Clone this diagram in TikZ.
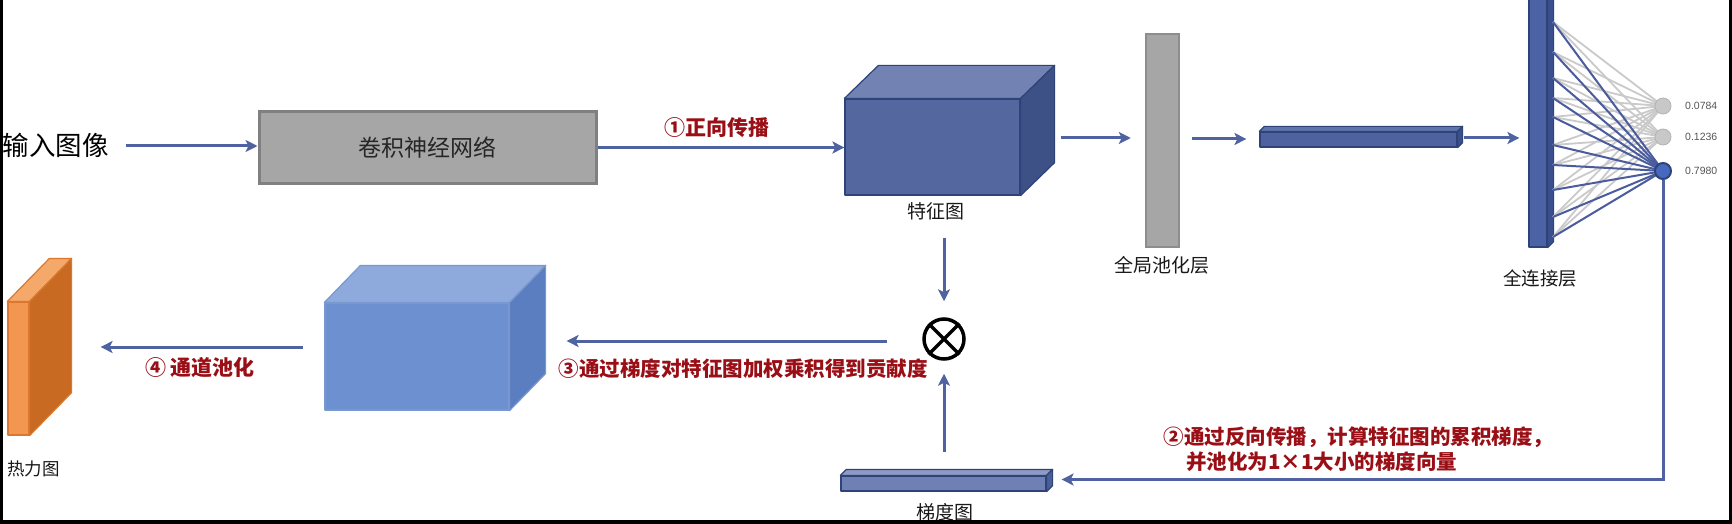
\documentclass[tikz,border=0pt]{standalone}
\usepackage{fontspec}
\setmainfont{Noto Sans CJK SC}
\newfontfamily\numfont{Liberation Sans}
\usetikzlibrary{arrows.meta,calc}
\definecolor{arrblue}{HTML}{4E63A0}
\definecolor{darkred}{HTML}{9A0E16}
\definecolor{edgeblue}{HTML}{2E4478}
\definecolor{fmfront}{HTML}{55679F}
\definecolor{fmtop}{HTML}{7282B3}
\definecolor{fmside}{HTML}{3D5187}
\definecolor{lcfront}{HTML}{6D90D0}
\definecolor{lctop}{HTML}{8EAADD}
\definecolor{lcside}{HTML}{5B7EC0}
\definecolor{lcedge}{HTML}{7A98D0}
\definecolor{gbfront}{HTML}{6F80B4}
\definecolor{gbtop}{HTML}{8D9BC6}
\definecolor{gbside}{HTML}{4C5E96}
\definecolor{fvfront}{HTML}{4D629F}
\definecolor{fvtop}{HTML}{6173AC}
\definecolor{fvside}{HTML}{3B4F8B}
\definecolor{fcfront}{HTML}{4B62A5}
\definecolor{fcside}{HTML}{3A4F8E}
\definecolor{hmfront}{HTML}{F29650}
\definecolor{hmtop}{HTML}{F4A86A}
\definecolor{hmside}{HTML}{C96A22}
\definecolor{hmedge}{HTML}{D9782E}
\definecolor{graybox}{HTML}{A6A6A6}
\definecolor{grayedge}{HTML}{808080}
\definecolor{fcgray}{HTML}{CACACA}
\definecolor{outgray}{HTML}{C8C8C8}
\definecolor{outblue}{HTML}{4768BE}
\definecolor{fcblue}{HTML}{4A5C9E}
\definecolor{numgray}{HTML}{555555}
% draw top and right faces of a 3D box whose front face is node #1
\newcommand{\drawdepth}[6]{%
  \draw[fill=#4,draw=#6,line width=1.2pt,line join=round]
    (#1.north west) -- ++(#2,#3) -- ($(#1.north east)+(#2,#3)$) -- (#1.north east) -- cycle;
  \draw[fill=#5,draw=#6,line width=1.2pt,line join=round]
    (#1.north east) -- ++(#2,#3) -- ($(#1.south east)+(#2,#3)$) -- (#1.south east) -- cycle;
}
\begin{document}
\begin{tikzpicture}[x=1pt,y=-1pt,
  arr/.style={draw=arrblue,line width=3pt,-{Stealth[length=12pt,width=12pt,inset=3pt]}},
  lab/.style={inner sep=0pt,text=black!90,font=\fontsize{19}{19}\selectfont},
  redlab/.style={inner sep=0pt,text=darkred,font=\fontsize{20.5}{25}\selectfont\bfseries},
  frontface/.style={inner sep=0pt,line width=1.2pt,line join=round},
  outnode/.style={circle,inner sep=0pt,minimum size=16pt},
]
\useasboundingbox (0,0) rectangle (1732,524);
\clip (0,0) rectangle (1732,524);
\fill[white] (0,0) rectangle (1732,524);

% ---------- top row ----------
\node[inner sep=0pt,font=\fontsize{26.5}{26.5}\selectfont] (inp) at (55.5,145) {输入图像};
\node[fill=graybox,draw=grayedge,line width=3pt,minimum width=337pt,minimum height=71pt,inner sep=0pt,
      font=\fontsize{23}{23}\selectfont,text=black!85] (cnn) at (427.5,147.5) {卷积神经网络};

\node[frontface,fill=fmfront,draw=edgeblue,minimum width=175pt,minimum height=96pt] (fm) at (932.5,147) {};
\drawdepth{fm}{34}{-33}{fmtop}{fmside}{edgeblue}
\node[lab] (fmlab) at (935.5,211) {特征图};

\node[fill=graybox,draw=grayedge!90,line width=2.5pt,minimum width=33pt,minimum height=213pt,inner sep=0pt] (gap) at (1162.5,140.5) {};
\node[lab] (gaplab) at (1161.5,265) {全局池化层};

\node[frontface,fill=fvfront,draw=edgeblue,minimum width=197pt,minimum height=15pt] (fv) at (1358.5,139.5) {};
\drawdepth{fv}{5}{-5}{fvtop}{fvside}{edgeblue}

\node[frontface,fill=fcfront,draw=edgeblue,minimum width=18pt,minimum height=262pt] (fc) at (1538,116) {};
\drawdepth{fc}{6}{-6}{fcfront}{fcside}{edgeblue}
\node[lab,font=\fontsize{18.5}{18.5}\selectfont] (fclab) at (1540,278) {全连接层};

% output neurons and connections
\coordinate (o1c) at (1663,106);
\coordinate (o2c) at (1663,137);
\coordinate (o3c) at (1663,171);
\foreach \k/\y in {1/22,2/52,3/78,4/98,5/117,6/145,7/165,8/190,9/217,10/237}{
  \coordinate (p\k) at (1553,\y);
}
\foreach \k in {1,...,10}{
  \draw[fcgray,line width=1.8pt] (p\k) -- (o1c);
  \draw[fcgray,line width=1.8pt] (p\k) -- (o2c);
}
\foreach \k in {1,...,10}{
  \draw[fcblue,line width=2pt] (p\k) -- (o3c);
}
\node[outnode,fill=outgray,draw=outgray!90!black,line width=0.8pt] (o1) at (o1c) {};
\node[outnode,fill=outgray,draw=outgray!90!black,line width=0.8pt] (o2) at (o2c) {};
\node[outnode,fill=outblue,draw=edgeblue,line width=2pt] (o3) at (o3c) {};

\node[anchor=west,inner sep=0pt,text=numgray,font=\numfont\fontsize{10.5}{10.5}\selectfont] (v1) at (1685,106) {0.0784};
\node[anchor=west,inner sep=0pt,text=numgray,font=\numfont\fontsize{10.5}{10.5}\selectfont] (v2) at (1685,137) {0.1236};
\node[anchor=west,inner sep=0pt,text=numgray,font=\numfont\fontsize{10.5}{10.5}\selectfont] (v3) at (1685,171) {0.7980};

% top row connectors
\draw[arr] ($(inp.east)+(17,1)$) -- (cnn.west |- 0,146);
\draw[arr] (cnn.east) -- (cnn.east -| fm.west);
\node[redlab,font=\fontsize{21}{21}\selectfont\bfseries] (l1) at (717,128) {①正向传播};
\draw[arr] ($(fm.east)+(40,-9)$) -- ($(gap.west)+(-14,-2.5)$);
\draw[arr] ($(gap.east)+(12,-1.5)$) -- ($(fv.west)+(-13,-0.5)$);
\draw[arr] ($(fv.east)+(6,-1.5)$) -- ($(fc.west)+(-9,22)$);

% ---------- bottom row ----------
\node[circle,draw=black,line width=3.5pt,minimum size=40pt,inner sep=0pt] (ot) at (944,339) {};
\draw[black,line width=3.5pt] (ot.45) -- (ot.225) (ot.135) -- (ot.315);

\node[frontface,fill=gbfront,draw=edgeblue,minimum width=205pt,minimum height=15pt] (gb) at (943.5,483.5) {};
\drawdepth{gb}{6}{-6}{gbtop}{gbside}{edgeblue}
\node[lab] (gblab) at (945,512) {梯度图};

\node[frontface,fill=lcfront,draw=lcedge,minimum width=184pt,minimum height=107pt] (lc) at (417,356.5) {};
\drawdepth{lc}{36}{-37}{lctop}{lcside}{lcedge}

\node[frontface,fill=hmfront,draw=hmedge,minimum width=21pt,minimum height=133pt] (hm) at (18.5,368.5) {};
\drawdepth{hm}{42}{-43}{hmtop}{hmside}{hmedge}
\node[lab,font=\fontsize{17.5}{17.5}\selectfont] (hmlab) at (33.5,469) {热力图};

% bottom connectors
\draw[arr] ($(fm.south)+(11.5,42)$) -- ($(ot.north)+(0,-16)$);
\draw[arr] ($(gb.north)+(0.5,-23)$) -- ($(ot.south)+(0,13)$);
\draw[arr] (o3.south) |- ($(gb.east)+(15,-4)$);
\draw[arr] ($(ot.west)+(-35,2)$) -- ($(lc.east)+(57,-15.5)$);
\draw[arr] ($(lc.west)+(-21,-9.5)$) -- ($(hm.east)+(71,-21.5)$);

\node[redlab,align=left] (l2) at (1358.5,449.5) {②通过反向传播，计算特征图的累积梯度，\\\hspace*{1.1em}并池化为1×1大小的梯度向量};
\node[redlab] (l3) at (743,369) {③通过梯度对特征图加权乘积得到贡献度};
\node[redlab,font=\fontsize{21}{21}\selectfont\bfseries] (l4) at (200,368) {④ 通道池化};

% frame
\draw[black,line width=2.5pt] (1.25,0) -- (1.25,522);
\draw[black,line width=4pt] (0,522) -- (1732,522);
\draw[black,line width=3pt] (1730.5,0) -- (1730.5,524);
\end{tikzpicture}
\end{document}
